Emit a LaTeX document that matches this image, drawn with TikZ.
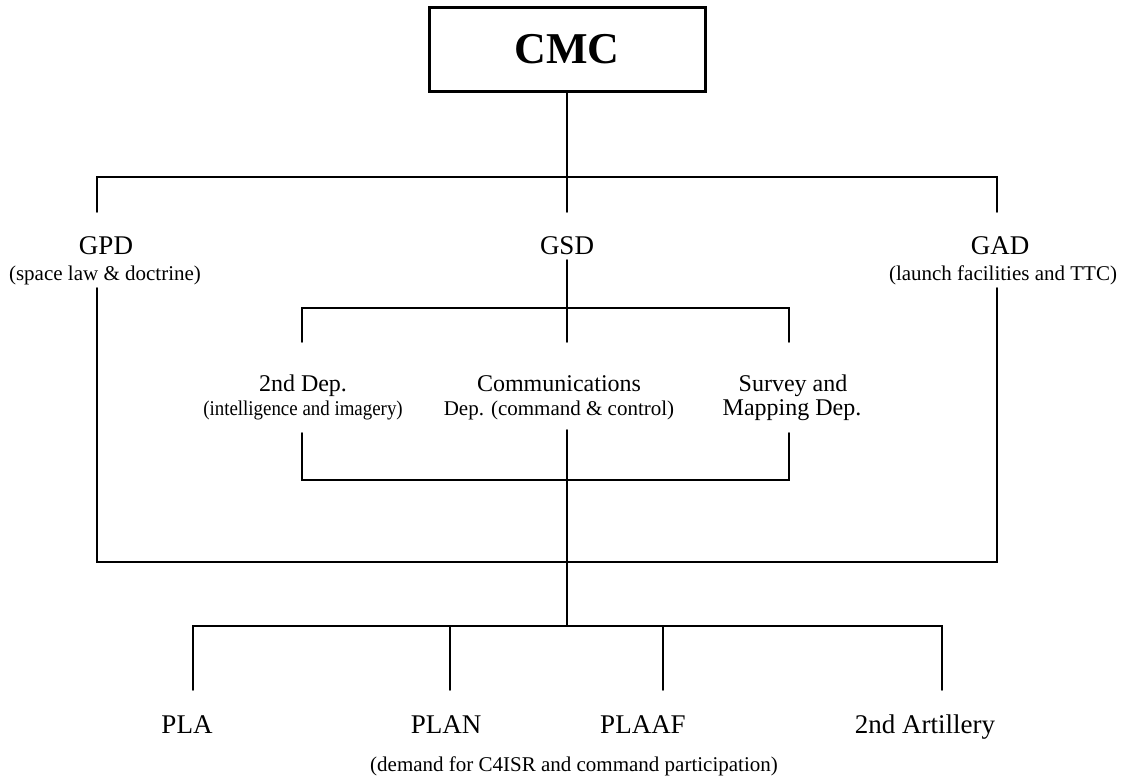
\documentclass[tikz,border=0pt]{standalone}
\usepackage{fontspec}
\setmainfont{Liberation Serif}
\newfontfamily\condfont[FakeStretch=0.9]{Liberation Serif}
\usepackage{tkz-euclide}

\tikzset{
  orgline/.style={line width=1.8pt, color=black},
  cmcbox/.style={draw, line width=3pt, minimum width=276pt, minimum height=84pt,
    inner sep=0pt, font=\fontsize{44}{48}\selectfont\bfseries},
  toplabel/.style={anchor=base, inner sep=0pt, font=\fontsize{27}{30}\selectfont},
  midlabel/.style={anchor=base, inner sep=0pt, font=\fontsize{24}{27}\selectfont},
  note/.style={anchor=base, inner sep=0pt, font=\fontsize{21}{24}\selectfont}
}

\begin{document}
\begin{tikzpicture}[x=1pt, y=1pt]
    \useasboundingbox (0,0) rectangle (1123,777);
    \node[cmcbox] (cmc) at (567,727.5) {CMC};
    \tkzDefPoints{97/600/T1,567/600/T2,997/600/T3,97/565/U1,567/565/U2,997/565/U3}
    \tkzDefPoints{567/517/G1,302/469/M1,789/469/M3,302/435/K1,567/435/K2,789/435/K3}
    \tkzDefPoints{302/344/N1,567/347/N2,789/344/N3,302/297/B1,789/297/B3}
    \tkzDefPoints{97/489/L1,97/215/L2,997/489/R1,997/215/R2}
    \tkzDefPoints{567/151/P0,193/151/P1,450/151/P2,663/151/P3,942/151/P4}
    \tkzDefPoints{193/87/Q1,450/87/Q2,663/87/Q3,942/87/Q4}
    \draw[orgline] (cmc.south) -- (T2);
    \tkzDrawPolySeg[orgline](U1,T1,T3,U3)
    \tkzDrawSegments[orgline](T2,U2 G1,K2 N2,P0 P2,Q2 P3,Q3)
    \tkzDrawPolySeg[orgline](K1,M1,M3,K3)
    \tkzDrawPolySeg[orgline](N1,B1,B3,N3)
    \tkzDrawPolySeg[orgline](L1,L2,R2,R1)
    \tkzDrawPolySeg[orgline](Q1,P1,P4,Q4)
    % first level
    \node[toplabel] (gpd) at (106,522) {GPD};
    \node[note] (gpdnote) at (105,496) {(space law \& doctrine)};
    \node[toplabel] (gsd) at (567,522) {GSD};
    \node[toplabel] (gad) at (1000,522) {GAD};
    \node[note] (gadnote) at (1003,496) {(launch facilities and TTC)};
    % GSD departments
    \node[midlabel] (dep2) at (303,385) {2nd Dep.};
    \node[note, font=\fontsize{21}{24}\condfont] (dep2note) at (303,361) {(intelligence and imagery)};
    \node[midlabel] (comm) at (559,385) {Communications};
    \node[note] (commnote) at (559,361) {Dep. (command \& control)};
    \node[midlabel] (survey) at (793,385) {Survey and};
    \node[midlabel] (mapping) at (792,361) {Mapping Dep.};
    % services
    \node[toplabel] (pla) at (187,44) {PLA};
    \node[toplabel] (plan) at (446,44) {PLAN};
    \node[toplabel] (plaaf) at (643,44) {PLAAF};
    \node[toplabel] (art2) at (925,44) {2nd Artillery};
    \node[note] (demand) at (574,6) {(demand for C4ISR and command participation)};
\end{tikzpicture}
\end{document}
